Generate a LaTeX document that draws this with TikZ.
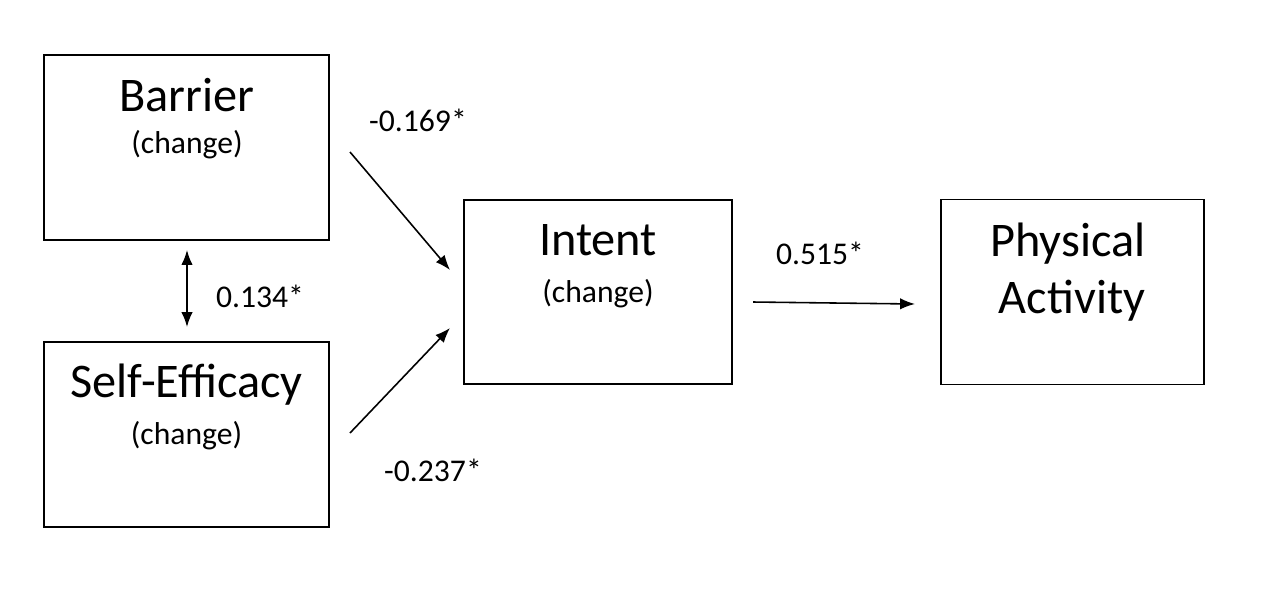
\documentclass[tikz,border=0pt]{standalone}
\usepackage{fontspec}
\setmainfont{Carlito}
\usetikzlibrary{arrows.meta}
\tikzset{
  box/.style={draw,line width=1.1pt,inner sep=0pt},
  ttl/.style={font=\fontsize{27.5}{32}\selectfont,anchor=base,inner sep=0pt},
  sub/.style={font=\fontsize{18}{21}\selectfont,anchor=base,inner sep=0pt},
  arr/.style={-{Latex[length=8.5pt,width=6.5pt]},line width=0.9pt},
  dbl/.style={{Latex[length=8.5pt,width=6.5pt]}-{Latex[length=8.5pt,width=6.5pt]},line width=0.9pt},
}
\begin{document}
\begin{tikzpicture}[x=0.02cm,y=-0.02cm]
    \useasboundingbox (0,0) rectangle (1280,593);
    % boxes
    \node[box,minimum width=5.7cm,minimum height=3.7cm] (bar) at (186.5,147.5) {};
    \node[box,minimum width=5.7cm,minimum height=3.7cm] (se) at (186.5,434.5) {};
    \node[box,minimum width=5.36cm,minimum height=3.68cm] (int) at (598,292) {};
    \node[box,minimum width=5.26cm,minimum height=3.7cm] (pa) at (1072.5,292) {};
    % texts
    \node[ttl] (bar-t) at (187,111) {Barrier};
    \node[sub] (bar-s) at (187,153) {(change)};
    \node[ttl] (se-t) at (186.5,397) {Self-Efficacy};
    \node[sub] (se-s) at (186.5,444) {(change)};
    \node[ttl] (int-t) at (598,255) {Intent};
    \node[sub] (int-s) at (598,302) {(change)};
    \node[ttl] (pa-t) at (1068,256) {Physical};
    \node[ttl] (pa-s) at (1072,313) {Activity};
    % coefficients
    \node[sub] (c-bar) at (418,131) {-0.169*};
    \node[sub] (c-cov) at (260,307) {0.134*};
    \node[sub] (c-se) at (433,481) {-0.237*};
    \node[sub] (c-int) at (820,264) {0.515*};
    % arrow ends
    \coordinate (bar-out) at (350,152);
    \coordinate (int-in1) at (450,270);
    \coordinate (se-out) at (350,433);
    \coordinate (int-in2) at (450,328);
    \coordinate (int-out) at (753,302);
    \coordinate (pa-in) at (915,304);
    \coordinate (cov-a) at (187,250);
    \coordinate (cov-b) at (187,327);
    \draw[arr] (bar-out)--(int-in1);
    \draw[arr] (se-out)--(int-in2);
    \draw[arr] (int-out)--(pa-in);
    \draw[dbl] (cov-a)--(cov-b);%covariance
\end{tikzpicture}
\end{document}
